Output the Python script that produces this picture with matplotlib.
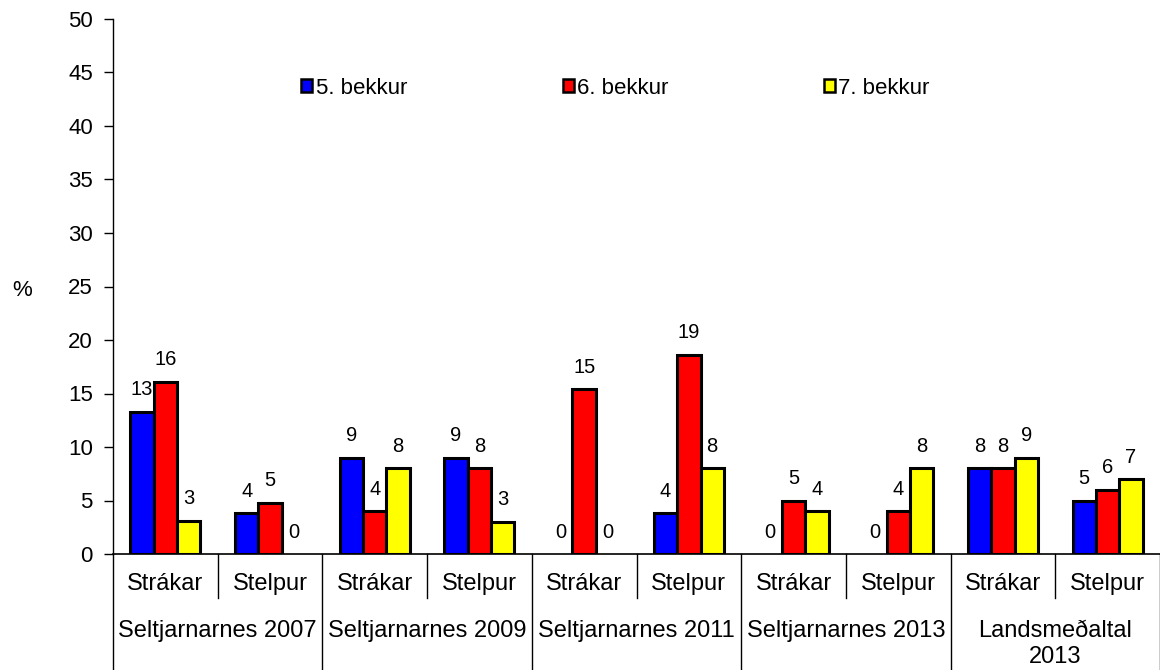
import matplotlib
matplotlib.use('Agg')
import matplotlib.pyplot as plt
import matplotlib.transforms as mtransforms
from matplotlib.patches import Patch
import numpy as np

plt.rcParams['font.family'] = ['Liberation Sans', 'DejaVu Sans']

sub_labels = ['Strákar', 'Stelpur'] * 5
group_labels = ['Seltjarnarnes 2007', 'Seltjarnarnes 2009', 'Seltjarnarnes 2011',
                'Seltjarnarnes 2013', 'Landsmeðaltal\n2013']
series_names = ['5. bekkur', '6. bekkur', '7. bekkur']
bekkur5 = [13.3, 3.8, 9.0, 9.0, 0.0, 3.8, 0.0, 0.0, 8.0, 5.0]
bekkur6 = [16.1, 4.8, 4.0, 8.0, 15.4, 18.6, 5.0, 4.0, 8.0, 6.0]
bekkur7 = [3.1, 0.0, 8.0, 3.0, 0.0, 8.0, 4.0, 8.0, 9.0, 7.0]
colors = ['#0000ff', '#ff0000', '#ffff00']

fig = plt.figure(figsize=(11.6, 6.7), dpi=100)
ax = fig.add_axes([113 / 1160, 1 - 554 / 670, 1047 / 1160, 535 / 670])

x = np.arange(len(sub_labels))
w = 0.223
for i, (vals, c) in enumerate(zip([bekkur5, bekkur6, bekkur7], colors)):
    pos = x + (i - 1) * w
    edges = ['black' if v > 0 else 'none' for v in vals]
    ax.bar(pos, vals, width=w, color=c, edgecolor=edges, linewidth=2.2)
    for px, v in zip(pos, vals):
        ax.annotate(f'{v:.0f}', (px, v), xytext=(0, 9), textcoords='offset points',
                    ha='center', va='bottom', fontsize=14.5)

ax.set_xlim(-0.5, len(sub_labels) - 0.5)
ax.set_ylim(0, 50)
ax.set_yticks(np.arange(0, 51, 5))
ax.tick_params(axis='y', labelsize=16, length=6.5, width=1, direction='out', pad=8)
ax.set_xticks([])
for s in ['top', 'right']:
    ax.spines[s].set_visible(False)
ax.spines['left'].set_linewidth(1)
ax.spines['bottom'].set_linewidth(1.2)

# category separators and labels below the axis
trans = mtransforms.blended_transform_factory(ax.transData, ax.transAxes)
for b in np.arange(-0.5, len(sub_labels), 1):
    idx = int(b + 0.5)
    y_end = -0.217 if idx % 2 == 0 else -0.082
    ax.plot([b, b], [0, y_end], color='black', lw=1, transform=trans, clip_on=False)
for xi, lab in zip(x, sub_labels):
    ax.text(xi, -0.057, lab, transform=trans, ha='center', va='center', fontsize=17)
for gi, lab in enumerate(group_labels):
    ax.text(2 * gi + 0.5, -0.124, lab, transform=trans, ha='center', va='top',
            fontsize=17, linespacing=1.2)

fig.text(22 / 1160, 1 - 291 / 670, '%', ha='center', va='center', fontsize=16)

handles = [Patch(facecolor=c, edgecolor='black', linewidth=1.8) for c in colors]
ax.legend(handles, series_names, ncol=3, loc='center', bbox_to_anchor=(0.48, 0.871),
          frameon=False, fontsize=16, handlelength=0.5, handleheight=0.5,
          handletextpad=0.15, columnspacing=7.0)

fig.savefig('out.png', dpi=100)
